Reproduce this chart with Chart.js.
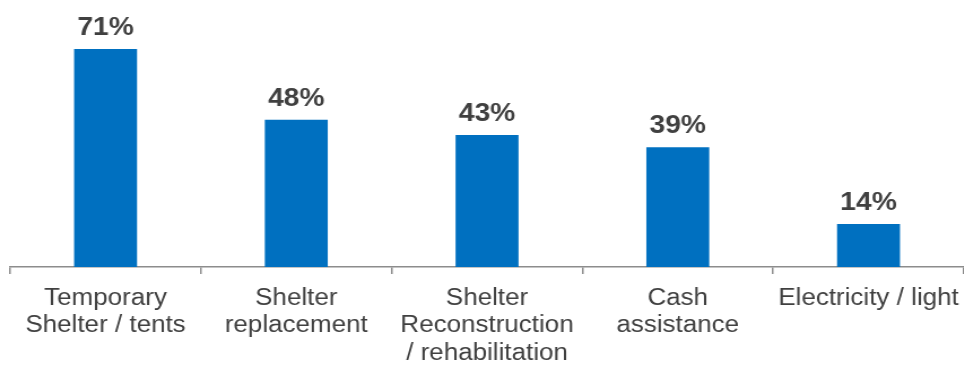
<!DOCTYPE html>
<html>
<head>
<meta charset="utf-8">
<script src="https://cdn.jsdelivr.net/npm/chart.js@4.4.0/dist/chart.umd.min.js"></script>
<style>
  html, body { margin: 0; padding: 0; background: #fff; overflow: hidden; }
  #wrap { width: 964px; height: 366px; }
  /* text in this chart is set slightly wide, so the canvas is stretched horizontally */
  #chart { transform: scaleX(1.13); transform-origin: 0 0; }
</style>
</head>
<body>
<div id="wrap"><canvas id="chart" width="853" height="366"></canvas></div>
<script>
const categories = [
  ['Temporary', 'Shelter / tents'],
  ['Shelter', 'replacement'],
  ['Shelter', 'Reconstruction', '/ rehabilitation'],
  ['Cash', 'assistance'],
  'Electricity / light'
];
const shares = [71, 48, 43, 39, 14];

const textColor = '#404040';
const axisColor = '#8c8c8c';

const valueLabels = {
  id: 'valueLabels',
  afterDatasetsDraw(chart) {
    const ctx = chart.ctx;
    const meta = chart.getDatasetMeta(0);
    ctx.save();
    ctx.font = 'bold 25px "Liberation Sans", Arial, sans-serif';
    ctx.fillStyle = textColor;
    ctx.textAlign = 'center';
    ctx.textBaseline = 'alphabetic';
    meta.data.forEach((bar, i) => {
      ctx.fillText(shares[i] + '%', bar.x, bar.y - 14);
    });
    ctx.restore();
  }
};

new Chart(document.getElementById('chart'), {
  type: 'bar',
  data: {
    labels: categories,
    datasets: [{
      data: shares,
      backgroundColor: '#0070C0',
      barPercentage: 0.33,
      categoryPercentage: 1
    }]
  },
  options: {
    responsive: false,
    animation: false,
    layout: { padding: { left: 9, right: 0, top: 0, bottom: 0 } },
    plugins: { legend: { display: false }, tooltip: { enabled: false } },
    scales: {
      x: {
        afterFit(scale) {
          scale.height = 99;
          // long last label may overhang the axis end a little
          scale.paddingLeft = 0;
          scale.paddingRight = 0;
        },
        border: { display: true, color: axisColor, width: 1.5 },
        grid: { display: true, drawOnChartArea: false, drawTicks: true, tickLength: 7, color: axisColor, lineWidth: 1.5, offset: true },
        ticks: {
          color: textColor,
          font: { family: '"Liberation Sans", Arial, sans-serif', size: 23, lineHeight: 1.19 },
          padding: 11,
          maxRotation: 0,
          autoSkip: false
        }
      },
      y: { display: false, min: 0, max: 87 }
    }
  },
  plugins: [valueLabels]
});
</script>
</body>
</html>
